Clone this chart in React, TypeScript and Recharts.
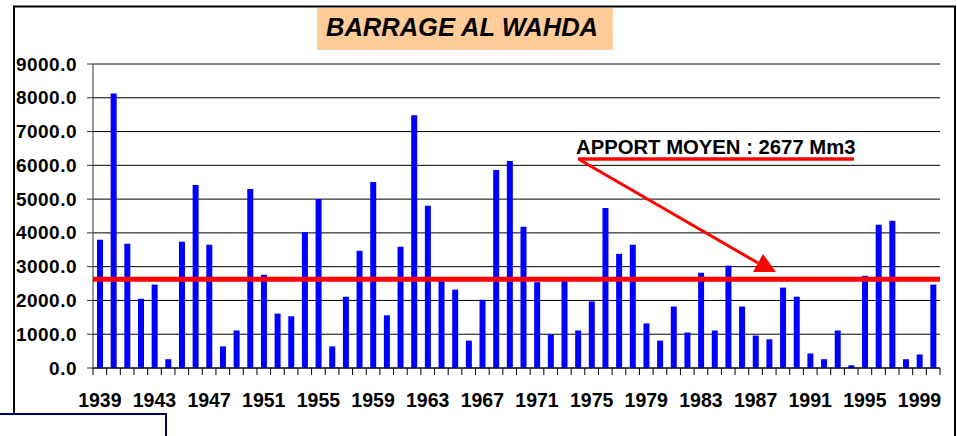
import { BarChart, Bar, XAxis, YAxis, CartesianGrid, ReferenceLine } from 'recharts';

// années hydrologiques
const years = [
    '1939', '1940', '1941', '1942', '1943', '1944', '1945', '1946', '1947', '1948',
    '1949', '1950', '1951', '1952', '1953', '1954', '1955', '1956', '1957', '1958',
    '1959', '1960', '1961', '1962', '1963', '1964', '1965', '1966', '1967', '1968',
    '1969', '1970', '1971', '1972', '1973', '1974', '1975', '1976', '1977', '1978',
    '1979', '1980', '1981', '1982', '1983', '1984', '1985', '1986', '1987', '1988',
    '1989', '1990', '1991', '1992', '1993', '1994', '1995', '1996', '1997', '1998',
    '1999', '2000',
];

// apports annuels (Mm3)
const apports = [
    3800, 8130, 3680, 2050, 2470, 260, 3740, 5420, 3650, 640,
    1110, 5300, 2760, 1610, 1530, 4030, 5000, 640, 2110, 3470,
    5510, 1560, 3590, 7480, 4800, 2580, 2320, 810, 2020, 5860,
    6130, 4180, 2540, 990, 2620, 1110, 1970, 4740, 3380, 3650,
    1320, 810, 1820, 1050, 2820, 1110, 3030, 1820, 960, 850,
    2380, 2110, 430, 260, 1110, 80, 2730, 4240, 4360, 260,
    400, 2470,
];

const yTicks = [0, 1000, 2000, 3000, 4000, 5000, 6000, 7000, 8000, 9000];
const meanLevel = 2630;
const title = 'BARRAGE AL WAHDA';
const note = 'APPORT MOYEN : 2677 Mm3';

const data = years.map((y, i) => ({ year: y, apport: apports[i] }));

const FONT = '"Liberation Sans", Arial, sans-serif';
const PLOT_W = 847;
const BAND = PLOT_W / years.length;

function YTick(props: any) {
    const { x, y, payload } = props;
    return (
        <text x={x} y={y + 6.5} textAnchor="end" fontFamily={FONT} fontSize={19} fontWeight="bold" letterSpacing={0.5} fill="#000">
            {Number(payload.value).toFixed(1)}
        </text>
    );
}

function XTick(props: any) {
    const { x, y, payload, index } = props;
    const left = x - BAND / 2;
    return (
        <g>
            <line x1={left} x2={left} y1={y} y2={y + 7} stroke="#000" strokeWidth={1} />
            {index === years.length - 1 && (
                <line x1={x + BAND / 2} x2={x + BAND / 2} y1={y} y2={y + 7} stroke="#000" strokeWidth={1} />
            )}
            {index % 4 === 0 && (
                <text x={x} y={y + 39} textAnchor="middle" fontFamily={FONT} fontSize={19.5} fontWeight="bold" fill="#000">
                    {payload.value}
                </text>
            )}
        </g>
    );
}

export default function App() {
    return (
        <div style={{ position: 'absolute', left: 0, top: 0, width: 957, height: 436, background: '#fff' }}>
            <BarChart width={957} height={436} data={data} margin={{ top: 64, right: 17, left: 0, bottom: 28 }}>
                <CartesianGrid vertical={false} stroke="#000" strokeWidth={1} />
                <XAxis
                    dataKey="year"
                    interval={0}
                    height={40}
                    tickSize={0}
                    tickMargin={0}
                    tick={<XTick />}
                    axisLine={{ stroke: '#000', strokeWidth: 1 }}
                />
                <YAxis
                    domain={[0, 9000]}
                    ticks={yTicks}
                    width={93}
                    tickSize={6}
                    tickMargin={10}
                    tick={<YTick />}
                    tickLine={{ stroke: '#333' }}
                    axisLine={{ stroke: '#333', strokeWidth: 1 }}
                />
                <YAxis
                    yAxisId="right"
                    orientation="right"
                    domain={[0, 9000]}
                    width={0}
                    tick={false}
                    tickLine={false}
                    axisLine={{ stroke: '#999', strokeWidth: 1 }}
                />
                <ReferenceLine y={9000} stroke="#888" strokeWidth={1} />
                <Bar dataKey="apport" fill="#0000FF" barSize={6} isAnimationActive={false} />
                <ReferenceLine y={meanLevel} stroke="#FF0000" strokeWidth={5} />
            </BarChart>
            <svg width={957} height={436} style={{ position: 'absolute', left: 0, top: 0, pointerEvents: 'none' }}>
                {/* cadre */}
                <line x1={14} x2={14} y1={6} y2={414} stroke="#000" strokeWidth={2} />
                <line x1={13} x2={956} y1={6.5} y2={6.5} stroke="#000" strokeWidth={2} />
                <line x1={955} x2={955} y1={6} y2={436} stroke="#000" strokeWidth={2} />
                <polyline points="0,414 166,414 166,436" fill="none" stroke="#000066" strokeWidth={2} />
                {/* titre */}
                <rect x={317} y={8} width={296} height={42} fill="#FFCC99" />
                <text x={462} y={36} textAnchor="middle" fontFamily={FONT} fontSize={25.5} fontWeight="bold" fontStyle="italic" fill="#000">
                    {title}
                </text>
                {/* annotation */}
                <text x={576} y={153.5} fontFamily={FONT} fontSize={20.3} fontWeight="bold" fill="#000">
                    {note}
                </text>
                <line x1={578} x2={854} y1={159} y2={159} stroke="#FF0000" strokeWidth={3.5} />
                <line x1={580} y1={160} x2={758} y2={263} stroke="#FF0000" strokeWidth={3} />
                <polygon points="763,254 753,272 776,272" fill="#FF0000" />
            </svg>
        </div>
    );
}
